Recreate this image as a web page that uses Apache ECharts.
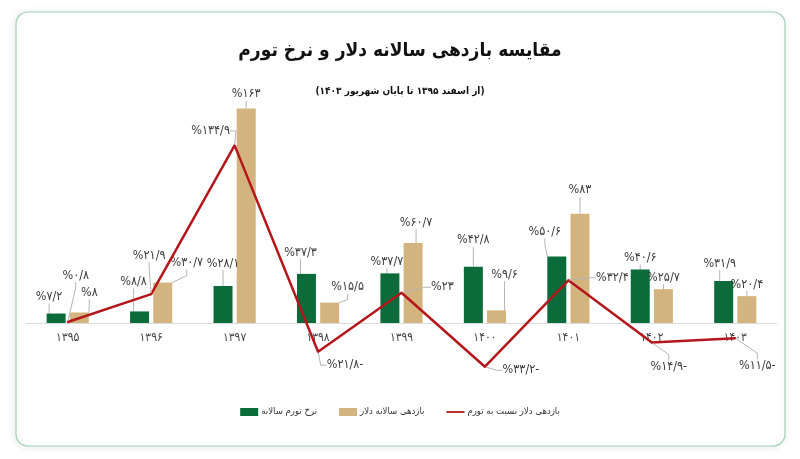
<!DOCTYPE html>
<html><head><meta charset="utf-8">
<script src="https://cdn.jsdelivr.net/npm/echarts@6/dist/echarts.min.js"></script>
<style>html,body{margin:0;padding:0;background:#fff}#c{width:800px;height:459px}</style>
</head><body><div id="c"></div>
<script>
const categories = ['۱۳۹۵','۱۳۹۶','۱۳۹۷','۱۳۹۸','۱۳۹۹','۱۴۰۰','۱۴۰۱','۱۴۰۲','۱۴۰۳'];
const inflation = [7.2, 8.8, 28.1, 37.3, 37.7, 42.8, 50.6, 40.6, 31.9];
const dollar = [8, 30.7, 163, 15.5, 60.7, 9.6, 83, 25.7, 20.4];
const relative = [0.8, 21.9, 134.9, -21.8, 23, -33.2, 32.4, -14.9, -11.5];
const seriesNames = ['نرخ تورم سالانه', 'بازدهی سالانه دلار', 'بازدهی دلار نسبت به تورم'];
const titleText = 'مقایسه بازدهی سالانه دلار و نرخ تورم';
const subtitleText = '(از اسفند ۱۳۹۵ تا پایان شهریور ۱۴۰۳)';

// label displacement (px) from the library's default label position
const inflationShift = [[-7,-5],[-6,-18],[0,-11],[-6,-10],[-3,0],[0,-15],[-12,-13],[0,0],[-4,-6]];
const dollarShift = [[10,-8],[24,-8],[0,-3],[18,-4],[3,-9],[8,-24],[0,-12],[0,0],[0,0]];
const relativeShift = [[8,-34],[-2,-26],[-24,-2],[27,26],[41,7],[36,16],[44,10],[17,37],[22,40]];

const FONT = '"DejaVu Sans Condensed", "DejaVu Sans"';
const faDigits = '۰۱۲۳۴۵۶۷۸۹';
function faPct(v) {
  const s = String(Math.abs(v)).replace(/\d/g, d => faDigits[+d]).replace('.', '/');
  return '%' + s + (v < 0 ? '-' : '');
}
function shiftLayout(arr) {
  return function (p) { const s = arr[p.dataIndex]; return { dx: s[0], dy: s[1] }; };
}
const labelBase = {
  show: true, position: 'top', distance: 5, fontFamily: FONT, fontSize: 12.5, color: '#3c3c3c',
  formatter: p => faPct(p.value)
};
const labelLineBase = { show: true, length2: 6, lineStyle: { color: '#b5b5b5', width: 1 } };

const chart = echarts.init(document.getElementById('c'), null, { renderer: 'canvas' });
chart.setOption({
  animation: false,
  textStyle: { fontFamily: FONT },
  graphic: [{
    type: 'rect', z: -10, silent: true,
    shape: { x: 16, y: 12, width: 769, height: 434, r: 12 },
    style: { fill: '#fff', stroke: '#9fd2b4', lineWidth: 1.2, shadowBlur: 8, shadowColor: 'rgba(0,0,0,0.10)', shadowOffsetX: -1, shadowOffsetY: 1 }
  }],
  title: [
    { text: titleText, left: 'center', top: 37, textStyle: { fontFamily: FONT, fontWeight: 'bold', fontSize: 19, color: '#111' } },
    { text: subtitleText, left: 'center', top: 81, textStyle: { fontFamily: FONT, fontWeight: 'bold', fontSize: 10, color: '#111' } }
  ],
  legend: {
    bottom: 37, left: 'center', itemWidth: 18, itemHeight: 8, itemGap: 22,
    textStyle: { fontFamily: FONT, fontSize: 9.5, color: '#333', padding: [0, 0, 0, -2] },
    data: [
      { name: seriesNames[0], icon: 'rect' },
      { name: seriesNames[1], icon: 'rect' },
      { name: seriesNames[2], icon: 'path://M0,0 L20,0 L20,2 L0,2 Z' }
    ]
  },
  grid: { left: 26, right: 23, top: 86, bottom: 136 },
  xAxis: {
    type: 'category', data: categories,
    axisLine: { lineStyle: { color: '#dcdcdc', width: 1 } },
    axisTick: { show: false },
    axisLabel: { fontFamily: FONT, fontSize: 12, color: '#444', margin: 9 }
  },
  yAxis: { type: 'value', min: 0, max: 180, show: false, splitLine: { show: false } },
  series: [
    {
      name: seriesNames[0], type: 'bar', data: inflation, barWidth: 19, barGap: '22%',
      itemStyle: { color: '#0b6b3a' },
      label: labelBase, labelLine: labelLineBase, labelLayout: shiftLayout(inflationShift)
    },
    {
      name: seriesNames[1], type: 'bar', data: dollar, barWidth: 19,
      itemStyle: { color: '#d3b47f' },
      label: labelBase, labelLine: labelLineBase, labelLayout: shiftLayout(dollarShift)
    },
    {
      name: seriesNames[2], type: 'line', data: relative, z: 5, clip: false,
      symbol: 'circle', symbolSize: 2, showAllSymbol: true,
      lineStyle: { color: '#b3161b', width: 2.5 }, itemStyle: { color: '#b3161b' },
      label: labelBase, labelLine: labelLineBase, labelLayout: shiftLayout(relativeShift)
    }
  ]
});
</script></body></html>
